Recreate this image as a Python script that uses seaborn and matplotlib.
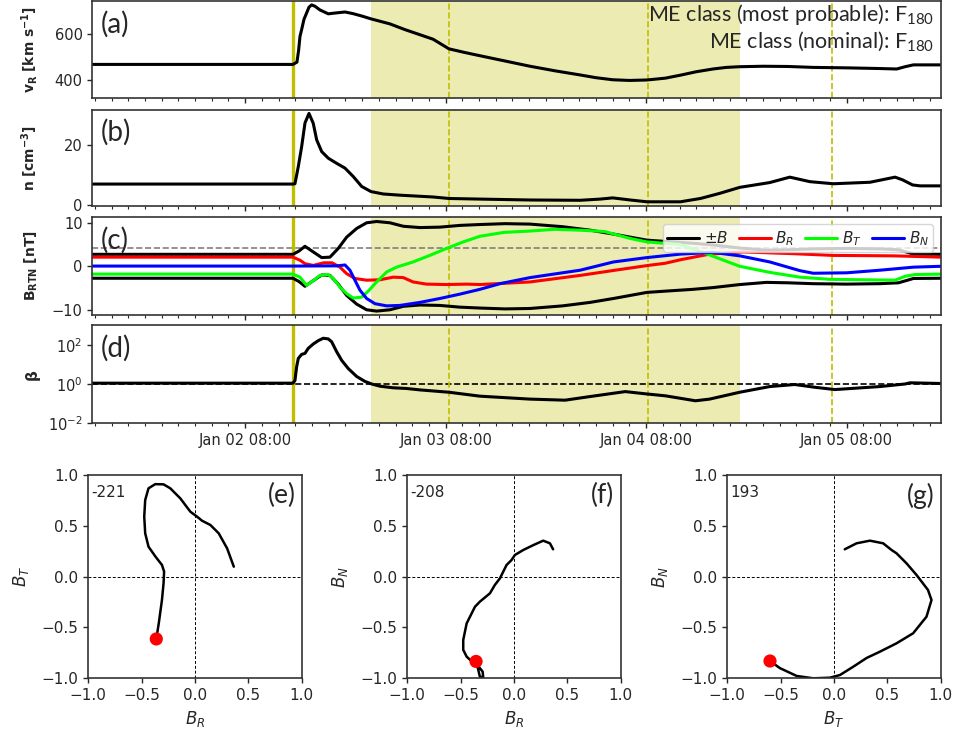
import numpy as np
import pandas as pd
import matplotlib
matplotlib.use("Agg")
import matplotlib.pyplot as plt
import matplotlib.dates as mdates
from matplotlib.ticker import NullLocator
import seaborn as sns

# ---------------- data (times in hours relative to Jan 02 08:00) ----------------
t_start, t_end = -18.3, 83.3
t_shock = 5.72
t_me_start, t_me_end = 15.06, 59.2
t_marks = [24.4, 48.2, 70.3]

vr_t = [-18.3, 5.72, 6.2, 6.4, 6.56, 6.76, 7.04, 7.36, 7.64, 7.96, 8.36, 8.95, 9.95, 10.9,
        11.95, 12.9, 14.0, 15.06, 17.33, 19.13, 20.9, 22.5, 24.4, 26.3, 28.1, 31.1, 34.1,
        37.1, 40.1, 42.0, 44.0, 46.0, 48.1, 50.3, 52.1, 54.0, 56.0, 57.6, 59.2, 62.0, 65.0,
        68.0, 72.0, 76.0, 78.0, 79.0, 80.0, 83.3]
vr_v = [468, 468, 478, 530, 590, 620, 665, 693, 718, 728, 722, 706, 689, 693,
        697, 690, 679, 667, 645, 620, 598, 578, 536, 520, 506, 483, 460,
        440, 422, 410, 401, 398, 400, 408, 421, 436, 448, 455, 458, 460, 459,
        455, 453, 450, 448, 458, 466, 466]

n_t = [-18.3, 5.72, 5.96, 6.36, 6.76, 7.16, 7.64, 8.15, 8.56, 9.16, 9.95, 10.95, 11.95,
       12.94, 13.95, 15.06, 16.53, 18.53, 22.48, 24.4, 28.1, 34.1, 40.1, 42.5, 44.0, 46.1,
       48.1, 52.1, 54.5, 56.8, 59.2, 62.8, 65.2, 67.6, 70.4, 74.8, 77.8, 78.7, 79.9, 80.8, 83.3]
n_v = [7.0, 7.0, 7.1, 12.8, 19.4, 27.3, 30.5, 27.2, 21.7, 17.8, 15.6, 13.9, 12.3,
       9.5, 6.2, 4.5, 3.7, 3.3, 2.7, 2.2, 2.0, 1.7, 1.6, 2.0, 2.4, 1.7,
       1.1, 1.1, 2.2, 3.9, 5.9, 7.5, 9.3, 7.8, 7.1, 7.6, 9.3, 8.4, 6.7, 6.4, 6.4]

b_t = [-18.3, 5.72, 6.44, 7.16, 8.15, 9.16, 10.15, 11.14, 12.15, 13.35, 14.54, 15.74, 17.33,
       18.93, 20.92, 23.32, 25.71, 28.1, 31.1, 34.1, 38.0, 41.3, 44.1, 46.1, 48.1, 51.2,
       53.6, 56.0, 59.2, 62.4, 65.0, 68.0, 72.0, 76.0, 78.2, 79.3, 80.0, 83.3]
b_v = [2.75, 2.75, 3.5, 4.6, 3.3, 2.0, 2.1, 4.1, 6.7, 8.7, 10.0, 10.3, 10.0,
       9.2, 8.9, 9.0, 9.4, 9.6, 9.8, 9.7, 9.1, 8.3, 7.4, 6.7, 6.0, 5.6,
       5.3, 4.9, 4.2, 3.7, 3.8, 4.0, 4.1, 4.0, 3.8, 3.2, 2.8, 2.75]

br_t = [-18.3, 5.72, 6.56, 7.16, 8.15, 9.4, 10.4, 11.35, 12.15, 13.14, 14.54, 16.14, 17.73,
        18.93, 20.1, 21.7, 24.1, 26.5, 28.1, 34.1, 40.1, 44.3, 48.25, 50.3, 52.1, 55.6,
        59.6, 65.6, 70.4, 77.6, 83.3]
br_v = [2.1, 2.1, 1.4, 0.6, 0.2, 0.8, 0.8, -0.2, -1.7, -2.8, -3.2, -3.1, -2.5,
        -2.6, -3.6, -4.1, -4.2, -4.1, -4.2, -3.6, -2.1, -0.9, 0.2, 0.7, 1.5, 2.8,
        3.3, 2.9, 2.5, 2.4, 2.1]

bt_t = [-18.3, 5.72, 6.56, 7.36, 8.15, 8.95, 9.95, 10.55, 11.35, 12.15, 12.94, 13.95, 14.74,
        15.74, 16.94, 18.13, 20.1, 22.1, 24.1, 26.1, 28.1, 31.0, 34.1, 37.0, 40.1, 43.0,
        46.1, 48.1, 52.1, 55.6, 59.2, 62.8, 66.4, 70.0, 77.8, 79.0, 80.2, 83.3]
bt_v = [-1.8, -1.8, -2.5, -4.4, -3.3, -2.1, -1.9, -2.8, -4.8, -6.3, -7.3, -7.1, -5.7,
        -3.6, -1.3, -0.2, 1.0, 2.5, 4.1, 5.6, 6.9, 7.8, 8.1, 8.5, 8.3, 8.0,
        6.4, 5.6, 5.0, 2.6, 0.0, -1.4, -2.5, -3.0, -3.2, -2.3, -1.9, -1.8]

bn_t = [-18.3, 5.72, 11.0, 11.95, 12.54, 13.14, 13.74, 14.54, 15.54, 16.94, 18.53, 20.92,
        23.32, 25.71, 28.1, 30.5, 34.1, 40.1, 44.1, 48.1, 52.1, 56.0, 59.2, 62.8, 66.4,
        68.0, 72.0, 76.0, 80.0, 83.3]
bn_v = [0.05, 0.05, 0.1, 0.3, -0.9, -3.2, -5.5, -7.4, -8.6, -9.1, -9.0, -8.3,
        -7.4, -6.4, -5.3, -4.0, -2.6, -0.9, 1.0, 2.0, 2.8, 3.2, 2.4, 1.0, -1.0,
        -1.6, -1.5, -0.9, -0.2, 0.0]

beta_t = [-18.3, 5.72, 5.96, 6.16, 6.36, 6.76, 7.16, 7.55, 8.15, 8.75, 9.35, 9.95, 10.35,
          10.95, 11.55, 12.34, 13.35, 14.34, 15.14, 16.14, 17.73, 19.33, 20.92, 24.4, 28.1,
          34.1, 38.3, 41.3, 45.5, 48.1, 50.3, 53.9, 55.6, 59.2, 62.8, 65.8, 68.2, 70.6,
          76.0, 79.0, 79.6, 83.3]
beta_v = [1.1, 1.1, 1.5, 7.4, 20, 32, 36, 65, 108, 160, 212, 196, 141,
          44, 16, 6.1, 2.4, 1.35, 1.0, 0.77, 0.64, 0.59, 0.5, 0.38, 0.24,
          0.17, 0.15, 0.23, 0.41, 0.31, 0.25, 0.14, 0.17, 0.38, 0.74, 0.94, 0.68, 0.52,
          0.74, 1.0, 1.15, 1.06]

b_threshold = 4.2

# hodograms (normalised components)
hod_e_x = [-0.363, -0.34, -0.31, -0.295, -0.29, -0.31, -0.37, -0.436, -0.467, -0.476, -0.467,
           -0.436, -0.373, -0.295, -0.232, -0.138, -0.044, 0.019, 0.066, 0.144, 0.222, 0.30, 0.363]
hod_e_y = [-0.613, -0.46, -0.23, -0.065, 0.05, 0.115, 0.196, 0.295, 0.426, 0.59, 0.754,
           0.869, 0.91, 0.908, 0.869, 0.77, 0.639, 0.59, 0.55, 0.508, 0.426, 0.279, 0.098]
hod_f_x = [-0.356, -0.335, -0.32, -0.289, -0.294, -0.326, -0.40, -0.444, -0.476, -0.476, -0.444,
           -0.366, -0.32, -0.226, -0.18, -0.132, -0.07, -0.023, 0.008, 0.086, 0.18, 0.273, 0.336, 0.366]
hod_f_y = [-0.834, -0.918, -0.984, -0.99, -0.935, -0.892, -0.83, -0.787, -0.72, -0.623, -0.46,
           -0.296, -0.246, -0.164, -0.082, -0.016, 0.115, 0.164, 0.213, 0.262, 0.31, 0.354, 0.328, 0.269]
hod_g_x = [-0.60, -0.507, -0.35, -0.195, -0.039, 0.055, 0.18, 0.305, 0.43, 0.585, 0.741, 0.866,
           0.913, 0.88, 0.773, 0.679, 0.585, 0.539, 0.46, 0.336, 0.211, 0.10]
hod_g_y = [-0.83, -0.90, -0.977, -1.0, -0.994, -0.968, -0.886, -0.80, -0.738, -0.656, -0.557,
           -0.394, -0.23, -0.131, 0.016, 0.131, 0.23, 0.262, 0.328, 0.354, 0.328, 0.269]
hod_angles = ["-221", "-208", "193"]

# ---------------- style ----------------
sns.set_style("ticks")
plt.rcParams.update({
    "font.family": ["DejaVu Sans"],
    "axes.edgecolor": "0.2",
    "axes.linewidth": 1.2,
    "xtick.color": "0.15", "ytick.color": "0.15",
    "xtick.direction": "out", "ytick.direction": "out",
    "xtick.major.size": 3.5, "xtick.minor.size": 2.0,
    "ytick.major.size": 3.5, "ytick.minor.size": 2.0,
    "xtick.major.width": 1.0, "ytick.major.width": 1.0,
    "xtick.minor.width": 0.8, "ytick.minor.width": 0.8,
    "xtick.labelsize": 10.5, "ytick.labelsize": 10.5,
    "mathtext.fontset": "dejavusans",
})

REF = pd.Timestamp("2023-01-02 08:00")


def to_time(hours):
    return REF + pd.to_timedelta(np.asarray(hours, dtype=float), unit="h")


def one_time(h):
    return REF + pd.Timedelta(hours=float(h))


fig = plt.figure(figsize=(9.55, 7.38), dpi=100)
L, W = 0.09665, 0.88869
axa = fig.add_axes([L, 0.86680, W, 0.13184])
axb = fig.add_axes([L, 0.72127, W, 0.13035])
axc = fig.add_axes([L, 0.57317, W, 0.13320])
axd = fig.add_axes([L, 0.42642, W, 0.13320])
top_axes = [axa, axb, axc, axd]

sns.lineplot(x=to_time(vr_t), y=vr_v, ax=axa, color="k", lw=2.2)
sns.lineplot(x=to_time(n_t), y=n_v, ax=axb, color="k", lw=2.2)

axc.axhline(b_threshold, color="gray", ls="--", lw=1.2, zorder=1)
sns.lineplot(x=to_time(b_t), y=b_v, ax=axc, color="k", lw=2.2, label=r"$\pm B$")
sns.lineplot(x=to_time(b_t), y=-np.asarray(b_v), ax=axc, color="k", lw=2.2)
sns.lineplot(x=to_time(br_t), y=br_v, ax=axc, color="red", lw=2.2, label=r"$B_R$")
sns.lineplot(x=to_time(bt_t), y=bt_v, ax=axc, color="lime", lw=2.2, label=r"$B_T$")
sns.lineplot(x=to_time(bn_t), y=bn_v, ax=axc, color="blue", lw=2.2, label=r"$B_N$")

axd.set_yscale("log")
axd.axhline(1.0, color="k", ls="--", lw=1.2, zorder=1)
sns.lineplot(x=to_time(beta_t), y=beta_v, ax=axd, color="k", lw=2.2)

for ax in top_axes:
    ax.axvspan(one_time(t_me_start), one_time(t_me_end), color="y", alpha=0.3, lw=0, zorder=0)
    ax.axvline(one_time(t_shock), color="y", lw=2.4, zorder=1.5)
    for tm in t_marks:
        ax.axvline(one_time(tm), color="y", lw=1.2, ls="--", zorder=1.5)
    ax.set_xlim(one_time(t_start), one_time(t_end))
    ax.xaxis.set_major_locator(mdates.HourLocator(byhour=[8]))
    ax.xaxis.set_minor_locator(mdates.HourLocator(byhour=list(range(0, 24, 2))))
    ax.xaxis.set_major_formatter(mdates.DateFormatter("%b %d %H:%M"))
    ax.set_xlabel("")
    if ax is not axd:
        ax.tick_params(axis="x", which="both", labelbottom=False)

axa.set_ylim(320, 745)
axa.set_yticks([400, 600])
axb.set_ylim(-0.2, 31.8)
axb.set_yticks([0, 20])
axc.set_ylim(-11.2, 11.4)
axc.set_yticks([-10, 0, 10])
axd.set_ylim(1e-2, 1e3)
axd.set_yticks([1e-2, 1e0, 1e2])
axd.yaxis.set_minor_locator(NullLocator())

axa.set_ylabel(r"$\mathbf{v_R\ [km\ s^{-1}]}$", fontsize=10)
axb.set_ylabel(r"$\mathbf{n\ [cm^{-3}]}$", fontsize=10)
axc.set_ylabel(r"$\mathbf{B_{RTN}\ [nT]}$", fontsize=10)
axd.set_ylabel("β", fontsize=11, fontweight="bold")
for ax in top_axes:
    ax.yaxis.set_label_coords(-0.062, 0.5)

handles, labels = axc.get_legend_handles_labels()
axc.legend(handles, labels, ncol=4, loc="upper right", fontsize=11, handlelength=2.1,
           handletextpad=0.3, columnspacing=0.7, borderpad=0.3, framealpha=0.8,
           fancybox=True)

for ax, lab in zip(top_axes, ["(a)", "(b)", "(c)", "(d)"]):
    ax.text(0.01, 0.9, lab, transform=ax.transAxes, ha="left", va="top",
            fontsize=20, family="Lato", zorder=5)

axa.text(0.9918, 0.791, r"ME class (most probable): $\mathregular{F_{180}}$",
         transform=axa.transAxes, ha="right", va="baseline", fontsize=15.5, family="Lato")
axa.text(0.9918, 0.517, r"ME class (nominal): $\mathregular{F_{180}}$",
         transform=axa.transAxes, ha="right", va="baseline", fontsize=15.5, family="Lato")

# ---------------- hodograms ----------------
BB, BH, BW = 0.0809, 0.27547, 0.22356
hod_specs = [
    (0.09246, hod_e_x, hod_e_y, r"$B_R$", r"$B_T$", "(e)"),
    (0.42649, hod_f_x, hod_f_y, r"$B_R$", r"$B_N$", "(f)"),
    (0.76157, hod_g_x, hod_g_y, r"$B_T$", r"$B_N$", "(g)"),
]
for (left, hx, hy, xl, yl, lab), ang in zip(hod_specs, hod_angles):
    ax = fig.add_axes([left, BB, BW, BH])
    ax.axhline(0, color="k", ls=(0, (3, 2)), lw=0.7, zorder=1)
    ax.axvline(0, color="k", ls=(0, (3, 2)), lw=0.7, zorder=1)
    sns.lineplot(x=hx, y=hy, sort=False, estimator=None, color="k", lw=1.8, ax=ax)
    sns.scatterplot(x=[hx[0]], y=[hy[0]], color="red", s=90, edgecolor="none", ax=ax, zorder=4)
    ax.set_xlim(-1, 1)
    ax.set_ylim(-1, 1)
    ax.set_xticks([-1, -0.5, 0, 0.5, 1])
    ax.set_yticks([-1, -0.5, 0, 0.5, 1])
    ax.tick_params(labelsize=11)
    ax.set_xlabel(xl, fontsize=12)
    ax.set_ylabel(yl, fontsize=12, labelpad=8)
    ax.text(0.012, 0.95, ang, transform=ax.transAxes, ha="left", va="top", fontsize=11)
    ax.text(0.97, 0.96, lab, transform=ax.transAxes, ha="right", va="top",
            fontsize=19, family="Lato")

fig.savefig("out.png", dpi=100)
